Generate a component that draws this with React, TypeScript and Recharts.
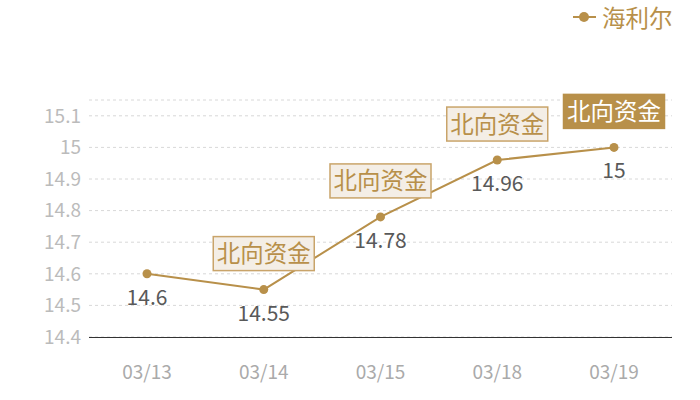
import { LineChart, Line, XAxis, YAxis, CartesianGrid, LabelList } from 'recharts';

const dates = ['03/13', '03/14', '03/15', '03/18', '03/19'];
const prices = [14.6, 14.55, 14.78, 14.96, 15];
const notes = ['', '北向资金', '北向资金', '北向资金', '北向资金'];
const highlighted = [false, false, false, false, true];
const yTicks = [14.4, 14.5, 14.6, 14.7, 14.8, 14.9, 15, 15.1, 15.15];
const seriesName = '海利尔';

const GOLD = '#b8904a';
const FONT = '"Noto Sans CJK SC", "Noto Sans", sans-serif';

const data = dates.map((d, i) => ({
  date: d,
  price: prices[i],
  note: notes[i],
  hl: highlighted[i],
}));

function ValueLabel(props: any) {
  const { x, y, value } = props;
  return (
    <text x={x} y={y + 31} textAnchor="middle" fill="#595959" fontSize={21} fontFamily={FONT}>
      {value}
    </text>
  );
}

function NoteLabel(props: any) {
  const { x, y, index } = props;
  const text = notes[index];
  if (!text) return null;
  const hl = highlighted[index];
  const w = 101;
  const h = 34;
  const top = y - 19 - h;
  return (
    <g>
      <rect
        x={x - w / 2}
        y={top}
        width={w}
        height={h}
        fill={hl ? GOLD : '#f4eee6'}
        stroke={hl ? GOLD : '#c9a46a'}
        strokeWidth={1.5}
      />
      <text
        x={x}
        y={top + h / 2 + 8.5}
        textAnchor="middle"
        fill={hl ? '#fff' : GOLD}
        fontSize={23.5}
        fontFamily={FONT}
      >
        {text}
      </text>
    </g>
  );
}

function XTick(props: any) {
  const { x, payload } = props;
  return (
    <text x={x} y={379} textAnchor="middle" fill="#aaa" fontSize={19} fontFamily={FONT}>
      {payload.value}
    </text>
  );
}

export default function App() {
  return (
    <div style={{ position: 'absolute', left: 0, top: 0, width: 700, height: 400, background: '#fff' }}>
      <svg width={700} height={40} style={{ position: 'absolute', left: 0, top: 0 }}>
        <line x1={573} y1={17} x2={596} y2={17} stroke={GOLD} strokeWidth={2} />
        <circle cx={584} cy={17} r={5} fill={GOLD} />
        <text x={602} y={27} fill={GOLD} fontSize={23.5} fontFamily={FONT}>
          {seriesName}
        </text>
      </svg>
      <LineChart
        width={700}
        height={400}
        data={data}
        margin={{ top: 100, right: 28, left: 0, bottom: 0 }}
      >
        <CartesianGrid horizontal vertical={false} strokeDasharray="3 3" stroke="#d8d8d8" />
        <XAxis
          dataKey="date"
          height={63}
          padding={{ left: 58, right: 58 }}
          tickLine={false}
          axisLine={{ stroke: '#333', strokeWidth: 1, shapeRendering: 'crispEdges' }}
          tick={<XTick />}
          interval={0}
        />
        <YAxis
          width={89}
          domain={[14.4, 15.15]}
          ticks={yTicks}
          interval={0}
          axisLine={false}
          tickLine={false}
          tick={{ fill: '#bbb', fontSize: 19, fontFamily: FONT }}
          tickFormatter={(v: number) => (v === 15.15 ? '' : String(v))}
        />
        <Line
          type="linear"
          dataKey="price"
          name={seriesName}
          stroke={GOLD}
          strokeWidth={2}
          dot={{ r: 4.5, fill: GOLD, stroke: 'none' }}
          activeDot={false}
          isAnimationActive={false}
        >
          <LabelList dataKey="price" content={<ValueLabel />} />
          <LabelList dataKey="note" content={<NoteLabel />} />
        </Line>
      </LineChart>
    </div>
  );
}
